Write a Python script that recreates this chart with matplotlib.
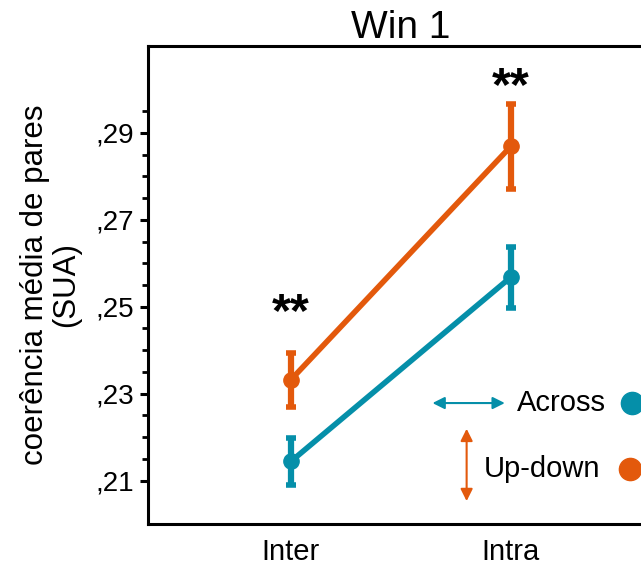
import matplotlib
matplotlib.use("Agg")
import matplotlib.pyplot as plt

plt.rcParams['font.family'] = ['Liberation Sans', 'DejaVu Sans']

# data
groups = ['Inter', 'Intra']
across_mean = [0.2144, 0.2568]
across_err = [0.0055, 0.0070]
updown_mean = [0.2332, 0.2869]
updown_err = [0.0062, 0.0097]
stars_y = [0.2485, 0.3005]

teal = '#058FA9'
orange = '#E3590C'

fig = plt.figure(figsize=(6.41, 5.65), dpi=100)
ax = fig.add_axes([0.2309, 0.0726, 0.789, 0.846])

x = [1, 2]
for m, e, c in [(across_mean, across_err, teal), (updown_mean, updown_err, orange)]:
    ax.plot(x, m, color=c, lw=4, solid_capstyle='butt', zorder=2)
    ax.errorbar(x, m, yerr=e, fmt='o', color=c, ms=11, elinewidth=4.5,
                capsize=3.5, capthick=4, zorder=3)

for xi, yi in zip(x, stars_y):
    ax.text(xi, yi, '**', ha='center', va='center', fontsize=35, fontweight='bold')

ax.set_xlim(0.35, 2.65)
ax.set_ylim(0.20, 0.31)
ax.set_xticks(x)
ax.set_xticklabels(groups, fontsize=21)
ax.tick_params(axis='x', length=0, pad=10)

majors = [0.21, 0.23, 0.25, 0.27, 0.29]
ax.set_yticks(majors)
ax.set_yticklabels([',21', ',23', ',25', ',27', ',29'], fontsize=20)
ax.set_yticks([0.21 + 0.005 * i for i in range(18) if i % 4 != 0], minor=True)
ax.tick_params(axis='y', which='major', length=6, width=2.2, direction='out', pad=4)
ax.tick_params(axis='y', which='minor', length=4, width=2, direction='out')

for s in ax.spines.values():
    s.set_linewidth(2.2)

ax.set_ylabel('coerência média de pares\n(SUA)', fontsize=22.5, labelpad=10, linespacing=1.05)
ax.set_title('Win 1', fontsize=28, pad=4)

# legend made by hand: arrows, labels, markers
ax.annotate('', xy=(0.557, 0.253), xytext=(0.711, 0.253),
            xycoords='axes fraction',
            arrowprops=dict(arrowstyle='<|-|>', color=teal, lw=1.5, mutation_scale=18))
ax.annotate('', xy=(0.630, 0.205), xytext=(0.630, 0.042),
            xycoords='axes fraction',
            arrowprops=dict(arrowstyle='<|-|>', color=orange, lw=1.5, mutation_scale=18))
ax.text(0.729, 0.253, 'Across', transform=ax.transAxes, fontsize=21, va='center', ha='left')
ax.text(0.664, 0.115, 'Up-down', transform=ax.transAxes, fontsize=21, va='center', ha='left')
ax.plot([0.957], [0.253], 'o', color=teal, ms=16, transform=ax.transAxes, clip_on=False)
ax.plot([0.954], [0.115], 'o', color=orange, ms=16, transform=ax.transAxes, clip_on=False)

fig.savefig('out.png', dpi=100)
